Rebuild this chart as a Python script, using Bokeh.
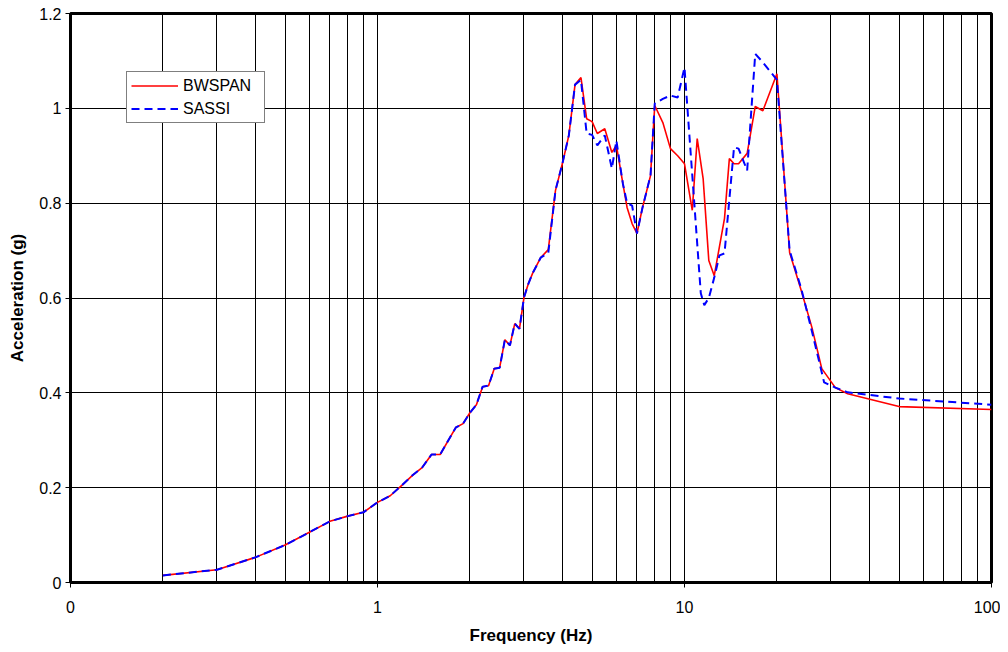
from bokeh.plotting import figure
from bokeh.models import Range1d, FixedTicker, Legend, LegendItem
from bokeh.embed import file_html
from bokeh.resources import INLINE

# ---- data ----
freq_bwspan = [0.2, 0.3, 0.4, 0.5, 0.6, 0.7, 0.8, 0.9, 1.0, 1.1, 1.2, 1.3, 1.4, 1.5, 1.6,
               1.8, 1.9, 2.0, 2.1, 2.2, 2.3, 2.4, 2.5, 2.6, 2.7, 2.8, 2.9, 3.0, 3.1, 3.2,
               3.4, 3.6, 3.8, 4.0, 4.2, 4.4, 4.6, 4.8, 5.0, 5.2, 5.5, 5.8, 6.0,
               6.3, 6.5, 6.75, 7.0, 7.3, 7.75, 8.0, 8.5, 9.0, 9.5, 10.0,
               10.6, 11.0, 11.5, 12.0, 12.5, 13.5, 14.0, 14.5, 15.0, 16.0, 17.0, 18.0, 20.0,
               22.0, 24.0, 26.0, 28.0, 31.0, 34.0, 50.0, 100.0]
acc_bwspan = [0.015, 0.027, 0.053, 0.079, 0.106, 0.129, 0.140, 0.148, 0.169, 0.183, 0.205, 0.226, 0.243, 0.270, 0.270,
              0.327, 0.335, 0.358, 0.375, 0.413, 0.415, 0.451, 0.453, 0.512, 0.500, 0.546, 0.535, 0.601, 0.630, 0.652,
              0.685, 0.702, 0.827, 0.883, 0.943, 1.050, 1.065, 0.978, 0.972, 0.947, 0.957, 0.907, 0.922,
              0.841, 0.791, 0.757, 0.736, 0.791, 0.858, 1.006, 0.970, 0.915, 0.900, 0.883,
              0.785, 0.936, 0.852, 0.679, 0.647, 0.768, 0.894, 0.883, 0.883, 0.905, 1.004, 0.995, 1.073,
              0.696, 0.616, 0.538, 0.451, 0.411, 0.398, 0.371, 0.365]

freq_sassi = [0.2, 0.3, 0.4, 0.5, 0.6, 0.7, 0.8, 0.9, 1.0, 1.1, 1.2, 1.3, 1.4, 1.5, 1.6,
              1.8, 1.9, 2.0, 2.1, 2.2, 2.3, 2.4, 2.5, 2.6, 2.7, 2.8, 2.9, 3.0, 3.1, 3.2,
              3.4, 3.6, 3.8, 4.0, 4.2, 4.4, 4.6, 4.8, 5.0, 5.2, 5.5, 5.8, 6.0,
              6.3, 6.5, 6.75, 7.0, 7.3, 7.75, 8.0, 8.5, 9.0, 9.5, 10.0,
              11.3, 11.6, 12.0, 12.5, 13.0, 13.5, 14.5, 15.0, 16.0, 17.0, 18.0, 20.0,
              22.0, 24.0, 26.0, 28.5, 31.0, 34.0, 50.0, 100.0]
acc_sassi = [0.015, 0.027, 0.053, 0.079, 0.106, 0.129, 0.140, 0.148, 0.169, 0.183, 0.205, 0.226, 0.243, 0.270, 0.270,
             0.327, 0.335, 0.358, 0.375, 0.413, 0.415, 0.451, 0.453, 0.512, 0.500, 0.546, 0.535, 0.601, 0.630, 0.652,
             0.685, 0.695, 0.827, 0.883, 0.943, 1.050, 1.060, 0.947, 0.944, 0.922, 0.943, 0.873, 0.932,
             0.841, 0.800, 0.795, 0.736, 0.791, 0.858, 1.010, 1.020, 1.027, 1.023, 1.086,
             0.610, 0.585, 0.600, 0.643, 0.690, 0.694, 0.918, 0.915, 0.869, 1.115, 1.097, 1.060,
             0.700, 0.620, 0.530, 0.422, 0.411, 0.401, 0.388, 0.375]

x_major = [0.1, 1, 10, 100]
x_major_labels = ["0", "1", "10", "100"]
x_minor = [0.2, 0.3, 0.4, 0.5, 0.6, 0.7, 0.8, 0.9,
           2, 3, 4, 5, 6, 7, 8, 9,
           20, 30, 40, 50, 60, 70, 80, 90]
y_ticks = [0, 0.2, 0.4, 0.6, 0.8, 1, 1.2]
y_labels = ["0", "0.2", "0.4", "0.6", "0.8", "1", "1.2"]

FONT = "Liberation Sans"

p = figure(width=1000, height=648, x_axis_type="log",
           x_range=Range1d(0.1, 100), y_range=Range1d(0, 1.2),
           output_backend="svg", toolbar_location=None,
           min_border_left=70, min_border_right=9, min_border_top=13, min_border_bottom=66)

p.background_fill_color = "white"
p.border_fill_color = "white"
p.outline_line_color = "black"
p.outline_line_width = 3

# axes
xticker = FixedTicker(ticks=x_major, minor_ticks=x_minor)
p.xaxis.ticker = xticker
p.xaxis.major_label_overrides = {t: l for t, l in zip(x_major, x_major_labels)}
yticker = FixedTicker(ticks=y_ticks, minor_ticks=[])
p.yaxis.ticker = yticker
p.yaxis.major_label_overrides = {t: l for t, l in zip(y_ticks, y_labels)}

for ax in (p.xaxis[0], p.yaxis[0]):
    ax.axis_line_color = "black"
    ax.axis_line_width = 3
    ax.major_tick_line_color = "black"
    ax.major_tick_line_width = 1
    ax.major_tick_out = 5
    ax.major_tick_in = 0
    ax.minor_tick_out = 0
    ax.minor_tick_in = 0
    ax.major_label_text_font = FONT
    ax.major_label_text_font_size = "16px"
    ax.major_label_text_color = "black"
    ax.axis_label_text_font = FONT
    ax.axis_label_text_font_size = "17px"
    ax.axis_label_text_font_style = "bold"
    ax.axis_label_text_color = "black"

p.xaxis.axis_label = "Frequency (Hz)"
p.yaxis.axis_label = "Acceleration (g)"
p.xaxis.major_label_standoff = 13
p.xaxis.axis_label_standoff = 10
p.yaxis.major_label_standoff = 4
p.yaxis.axis_label_standoff = 9

# grids
p.xgrid.ticker = xticker
p.xgrid.grid_line_color = "black"
p.xgrid.grid_line_width = 1
p.xgrid.minor_grid_line_color = "black"
p.xgrid.minor_grid_line_width = 1
p.ygrid.ticker = yticker
p.ygrid.grid_line_color = "black"
p.ygrid.grid_line_width = 1

# series
r_bw = p.line(freq_bwspan, acc_bwspan, line_color="#FF0000", line_width=1.6)
r_ss = p.line(freq_sassi, acc_sassi, line_color="#0000FF", line_width=2, line_dash="8 5")

legend = Legend(items=[LegendItem(label="BWSPAN", renderers=[r_bw]),
                       LegendItem(label="SASSI", renderers=[r_ss])],
                location=(56, 459), margin=0, padding=4, spacing=4,
                glyph_width=47, glyph_height=19, label_height=19, label_width=77,
                label_standoff=5,
                label_text_font=FONT, label_text_font_size="16px",
                label_text_color="black",
                border_line_color="black", border_line_width=1,
                background_fill_color="white", background_fill_alpha=1)
p.add_layout(legend)

open("out.html", "w").write(file_html(p, INLINE))
